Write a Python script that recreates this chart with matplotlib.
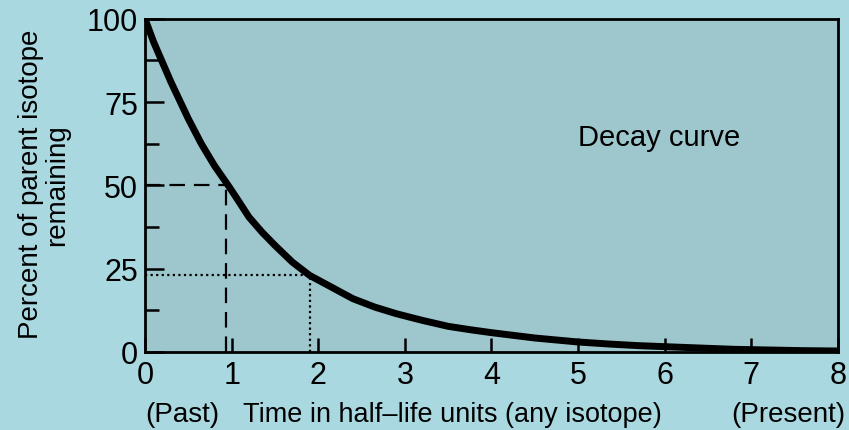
import matplotlib.pyplot as plt
from matplotlib.ticker import MultipleLocator

# --- data ---
half_lives = [0, 0.1, 0.2, 0.3, 0.4, 0.5, 0.65, 0.8, 0.96, 1.05, 1.2, 1.35, 1.5, 1.7, 1.9,
              2.15, 2.4, 2.65, 2.9, 3.2, 3.5, 3.75, 4.0, 4.25, 4.5, 4.75, 5.0, 5.35, 5.7,
              6.1, 6.5, 6.8, 7.2, 7.6, 8.0]
percent_left = [100, 93, 87, 81, 75.5, 70, 62.5, 56, 50, 46.5, 40.5, 36, 32, 27, 23,
                19.5, 16, 13.5, 11.5, 9.5, 7.7, 6.7, 5.8, 5.0, 4.2, 3.6, 3.0, 2.4, 1.9,
                1.5, 1.1, 0.8, 0.6, 0.4, 0.3]

first_half = (0.94, 50)    # dashed guide
second_half = (1.9, 23)    # dotted guide

x_ticks = [0, 1, 2, 3, 4, 5, 6, 7, 8]
y_ticks = [0, 25, 50, 75, 100]

plt.rcParams['font.family'] = ['Liberation Sans', 'DejaVu Sans']

fig = plt.figure(figsize=(8.49, 4.31), dpi=100)
fig.patch.set_facecolor('#aad8e0')
ax = fig.add_axes([0.1708, 0.181, 0.8162, 0.773])
ax.set_facecolor('#9ec7cd')

# decay curve
ax.plot(half_lives, percent_left, color='black', lw=5, solid_capstyle='round',
        solid_joinstyle='round', zorder=3)

# guide lines
ax.plot([0, first_half[0]], [first_half[1], first_half[1]], color='black', lw=1.6,
        dashes=(7, 4), zorder=2)
ax.plot([first_half[0], first_half[0]], [0, first_half[1]], color='black', lw=1.6,
        dashes=(7, 4), zorder=2)
ax.plot([0, second_half[0]], [second_half[1], second_half[1]], color='black', lw=1.6,
        ls=(0, (1, 1.5)), zorder=2)
ax.plot([second_half[0], second_half[0]], [0, second_half[1]], color='black', lw=1.6,
        ls=(0, (1, 1.5)), zorder=2)

ax.text(5.93, 64.5, 'Decay curve', fontsize=21, color='black', ha='center', va='center')

ax.set_xlim(0, 8)
ax.set_ylim(0, 100)
ax.set_xticks(x_ticks)
ax.set_yticks(y_ticks)
ax.yaxis.set_minor_locator(MultipleLocator(12.5))
ax.tick_params(axis='both', which='major', direction='in', labelsize=22,
               width=1.8, color='black')
ax.tick_params(axis='y', which='major', length=14, pad=5)
ax.tick_params(axis='y', which='minor', direction='in', length=10, width=1.8)
ax.tick_params(axis='x', which='major', length=10, pad=6)
for s in ax.spines.values():
    s.set_linewidth(2)

ax.set_ylabel('Percent of parent isotope\nremaining', fontsize=20, linespacing=1.0)
ax.yaxis.set_label_coords(-0.108, 0.505)

# x label in three pieces
ax.text(0, -0.185, '(Past)', transform=ax.get_xaxis_transform(), fontsize=20,
        ha='left', va='center')
ax.text(3.55, -0.185, 'Time in half\u2013life units (any isotope)', transform=ax.get_xaxis_transform(),
        fontsize=19.5, ha='center', va='center')
ax.text(8.08, -0.185, '(Present)', transform=ax.get_xaxis_transform(), fontsize=20,
        ha='right', va='center')

fig.savefig('out.png', dpi=100, facecolor=fig.get_facecolor())
